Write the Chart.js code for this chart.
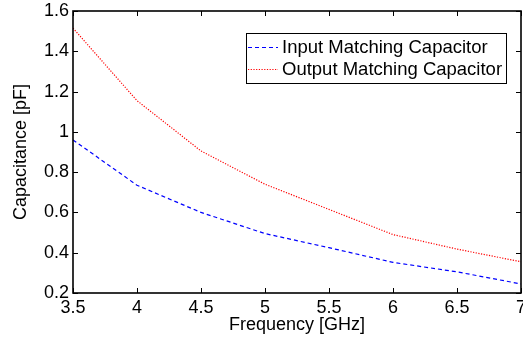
<!DOCTYPE html>
<html><head><meta charset="utf-8">
<script src="https://cdn.jsdelivr.net/npm/chart.js@4/dist/chart.umd.min.js"></script>
<style>html,body{margin:0;padding:0;background:#fff}#wrap{width:523px;height:339px}</style>
</head><body><div id="wrap"><canvas id="c" width="523" height="339"></canvas></div>
<script>
const freqs = [3.5, 4, 4.5, 5, 5.5, 6, 6.5, 7];
const inputCap = [0.96, 0.735, 0.60, 0.495, 0.425, 0.352, 0.305, 0.245];
const outputCap = [1.515, 1.155, 0.905, 0.74, 0.615, 0.49, 0.418, 0.355];
const xTicks = [3.5, 4, 4.5, 5, 5.5, 6, 6.5, 7];
const yTicks = [0.2, 0.4, 0.6, 0.8, 1, 1.2, 1.4, 1.6];
const seriesNames = ['Input Matching Capacitor', 'Output Matching Capacitor'];
const xTitle = 'Frequency [GHz]';
const yTitle = 'Capacitance [pF]';

const FONT = 'Liberation Sans, Arial, Helvetica, sans-serif';
const FS = 18;

const boxPlugin = {
  id: 'matlabBox',
  afterDraw(chart) {
    const ctx = chart.ctx, a = chart.chartArea;
    const xs = chart.scales.x, ys = chart.scales.y;
    ctx.save();
    ctx.strokeStyle = '#000';
    ctx.lineWidth = 1;
    ctx.beginPath();
    xTicks.forEach(v => {
      const px = Math.round(xs.getPixelForValue(v)) + 0.5;
      ctx.moveTo(px, a.bottom); ctx.lineTo(px, a.bottom - 5);
      ctx.moveTo(px, a.top); ctx.lineTo(px, a.top + 5);
    });
    yTicks.forEach(v => {
      const py = Math.round(ys.getPixelForValue(v)) + 0.5;
      ctx.moveTo(a.left, py); ctx.lineTo(a.left + 5, py);
      ctx.moveTo(a.right, py); ctx.lineTo(a.right - 5, py);
    });
    ctx.stroke();
    ctx.lineWidth = 1.6;
    ctx.strokeRect(a.left, a.top, a.right - a.left, a.bottom - a.top);

    // legend
    const lx = 246.5, ly = 33.5, lw = 260, lh = 50;
    ctx.fillStyle = '#fff';
    ctx.fillRect(lx, ly, lw, lh);
    ctx.lineWidth = 1;
    ctx.strokeRect(lx, ly, lw, lh);
    ctx.font = '18.5px ' + FONT;
    ctx.textBaseline = 'middle';
    ctx.textAlign = 'left';
    chart.data.datasets.forEach((ds, i) => {
      const cy = 46.5 + i * 22.7;
      ctx.strokeStyle = ds.borderColor;
      ctx.lineWidth = 1.2;
      ctx.setLineDash(ds.borderDash);
      ctx.beginPath();
      ctx.moveTo(248, Math.round(cy) + 0.5); ctx.lineTo(278, Math.round(cy) + 0.5);
      ctx.stroke();
      ctx.setLineDash([]);
      ctx.fillStyle = '#000';
      ctx.fillText(ds.label, 282, cy + 1);
    });
    ctx.restore();
  }
};

new Chart(document.getElementById('c'), {
  type: 'line',
  data: {
    datasets: [
      { label: seriesNames[0], data: freqs.map((f, i) => ({x: f, y: inputCap[i]})),
        borderColor: '#0000ff', borderWidth: 1.2, borderDash: [4, 3], pointRadius: 0, tension: 0, fill: false },
      { label: seriesNames[1], data: freqs.map((f, i) => ({x: f, y: outputCap[i]})),
        borderColor: '#ff0000', borderWidth: 1.2, borderDash: [1.2, 1.5], pointRadius: 0, tension: 0, fill: false }
    ]
  },
  options: {
    responsive: false,
    animation: false,
    devicePixelRatio: 1,
    layout: { padding: { left: 0, top: 11, right: 2, bottom: 0 } },
    plugins: { legend: { display: false }, tooltip: { enabled: false } },
    scales: {
      x: {
        type: 'linear', min: 3.5, max: 7,
        afterBuildTicks: s => { s.ticks = xTicks.map(v => ({value: v})); },
        afterFit: s => { s.height = 46; s.paddingLeft = 0; s.paddingRight = 0; },
        grid: { display: false, drawTicks: false },
        border: { display: false },
        ticks: { color: '#000', font: { family: FONT, size: FS }, padding: 4, maxRotation: 0, autoSkip: false,
                 callback: v => String(v) },
        title: { display: true, text: xTitle, color: '#000', font: { family: FONT, size: FS }, padding: { top: 0, bottom: 3 } }
      },
      y: {
        type: 'linear', min: 0.2, max: 1.6,
        afterBuildTicks: s => { s.ticks = yTicks.map(v => ({value: v})); },
        afterFit: s => { s.width = 73; s.paddingTop = 0; s.paddingBottom = 0; },
        grid: { display: false, drawTicks: false },
        border: { display: false },
        ticks: { color: '#000', font: { family: FONT, size: FS }, padding: 4, autoSkip: false,
                 callback: v => String(v) },
        title: { display: true, text: yTitle, color: '#000', font: { family: FONT, size: FS }, padding: { top: 10, bottom: 0 } }
      }
    }
  },
  plugins: [boxPlugin]
});
</script></body></html>
